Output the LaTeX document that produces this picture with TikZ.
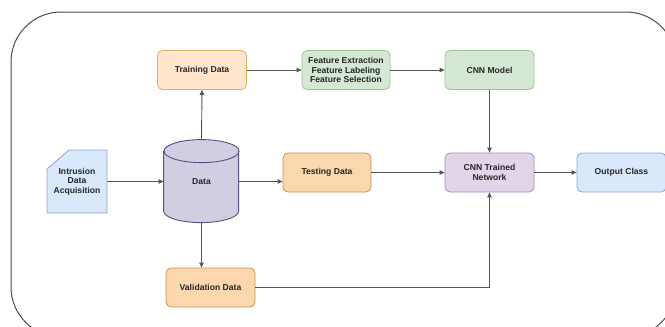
\documentclass[tikz,border=0pt]{standalone}
\usepackage{fontspec}
\setmainfont{Liberation Sans}
\usetikzlibrary{arrows.meta}

\definecolor{peachfill}{HTML}{FFE6CC}
\definecolor{peachline}{HTML}{E0B060}
\definecolor{orangefill}{HTML}{FAD7AC}
\definecolor{orangeline}{HTML}{C8914A}
\definecolor{greenfill}{HTML}{D5E8D4}
\definecolor{greenline}{HTML}{9CC494}
\definecolor{purplefill}{HTML}{E1D5E7}
\definecolor{purpleline}{HTML}{A88BB8}
\definecolor{bluefill}{HTML}{DAE8FC}
\definecolor{blueline}{HTML}{8AA6D0}
\definecolor{cylfill}{HTML}{D0CEE2}
\definecolor{cylline}{HTML}{56517E}
\definecolor{textcol}{HTML}{262626}
\definecolor{linkcol}{HTML}{555555}

\tikzset{
  box/.style={rounded corners=5pt, line width=0.8pt, minimum width=89pt,
    minimum height=39pt, inner sep=0pt, align=center, text=textcol,
    font=\fontsize{8.6}{9.4}\selectfont\bfseries},
  link/.style={draw=linkcol, line width=0.9pt,
    -{Triangle[length=5pt,width=4.5pt]}},
  frame/.style={draw=black!70, line width=1pt, rounded corners=50pt}
}

\begin{document}
\begin{tikzpicture}[x=1pt,y=-1pt]
  \useasboundingbox (0,0) rectangle (665,327);
  \begin{scope}
    \clip (0,0) rectangle (665,327);
    % outer frame, running past the right and bottom edges
    \draw[frame] (11,12) rectangle (676,337);

    % process boxes
    \node[box, fill=peachfill, draw=peachline] (train) at (202,70) {Training Data};
    \node[box, fill=greenfill, draw=greenline, minimum width=88pt] (feat) at (346,70)
      {Feature Extraction\\Feature Labeling\\Feature Selection};
    \node[box, fill=greenfill, draw=greenline] (model) at (489.5,70) {CNN Model};
    \node[box, fill=orangefill, draw=orangeline, minimum width=88pt] (test) at (327,172.5) {Testing Data};
    \node[box, fill=purplefill, draw=purpleline] (trained) at (489.5,172.5) {CNN Trained\\Network};
    \node[box, fill=bluefill, draw=blueline] (out) at (621.5,172.5) {Output Class};
    \node[box, fill=orangefill, draw=orangeline] (valid) at (210.5,287.5) {Validation Data};

    % card-shaped source
    \draw[fill=bluefill, draw=blueline, line width=0.8pt]
      (69,150) -- (107,150) -- (107,213) -- (47,213) -- (47,169) -- cycle;
    \node[box, draw=none, fill=none, minimum width=60pt, minimum height=63pt]
      (intr) at (77,181.5) {Intrusion\\Data\\Acquisition};

    % data store cylinder: body, outline, then the top ellipse
    \node[box, draw=none, fill=none, minimum width=75pt, minimum height=83pt]
      (data) at (201.5,181.5) {};
    \fill[cylfill] (data.north west) ++(0,11.5) -- ++(0,60)
      arc[start angle=180, end angle=360, x radius=37.5pt, y radius=11.5pt]
      -- ++(0,-60) arc[start angle=0, end angle=180, x radius=37.5pt, y radius=11.5pt] -- cycle;
    \draw[cylline, line width=0.9pt] (data.north west) ++(0,11.5) -- ++(0,60)
      arc[start angle=180, end angle=360, x radius=37.5pt, y radius=11.5pt]
      -- ++(0,-60);
    \draw[cylline, line width=0.9pt] (data.north) ++(0,11.5) ellipse[x radius=37.5pt, y radius=11.5pt];
    \node[text=textcol, font=\fontsize{8.6}{9.4}\selectfont\bfseries] (datalabel) at (data.center) {Data};

    % connectors
    \draw[link] (intr.east) -- (data.west);
    \draw[link] (data.east) -- (data.east -| test.west);
    \draw[link] (data.north) -- (train.south);
    \draw[link] (data.south) -- (valid.north -| data.south);
    \draw[link] (train) -- (feat);
    \draw[link] (feat) -- (model);
    \draw[link] (model.south) -- (trained.north);
    \draw[link] (test) -- (trained);
    \draw[link] (valid.east) -| (trained.south);
    \draw[link] (trained) -- (out);
  \end{scope}
\end{tikzpicture}
\end{document}
